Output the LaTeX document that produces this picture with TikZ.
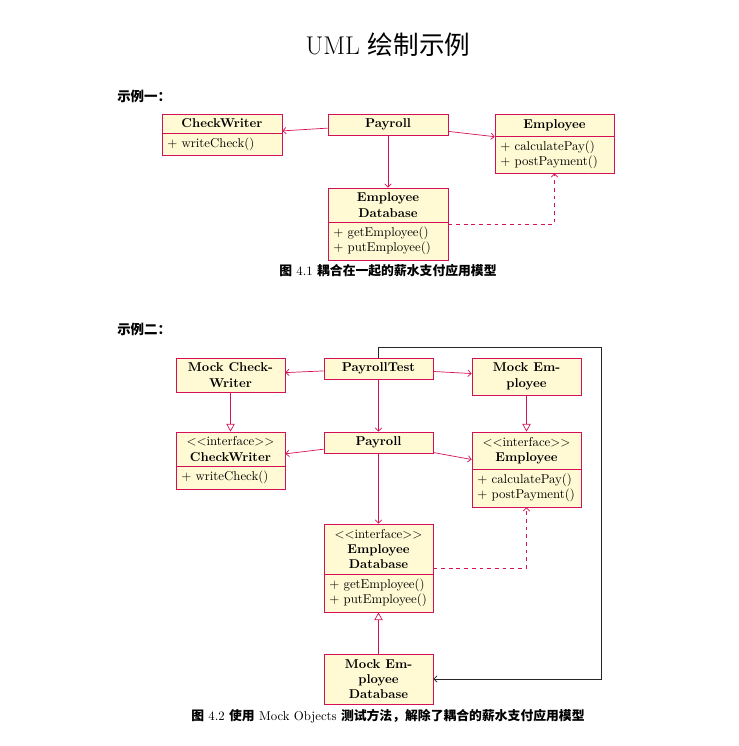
\documentclass[tikz,border=0pt]{standalone}
\usepackage{fontspec}
\newfontfamily\cjk{Noto Sans CJK SC}
\usetikzlibrary{arrows.meta,fit}
\definecolor{umlred}{RGB}{212,16,88}
\definecolor{umlfill}{RGB}{255,250,212}
\tikzset{
  classbox/.style={draw=umlred, fill=umlfill, line width=0.6pt, inner sep=0pt},
  classline/.style={draw=umlred, line width=0.6pt},
  headtext/.style={align=center, inner sep=0pt},
  bodytext/.style={anchor=west, align=left, inner xsep=4pt, inner ysep=0pt},
  assoc/.style={draw=umlred, line width=0.55pt, -{Straight Barb[length=2.5pt,width=5pt]}},
  inherit/.style={draw=umlred, line width=0.55pt, -{Triangle[open,length=6pt,width=6.5pt]}},
  dep/.style={draw=umlred, line width=0.55pt, dashed, -{Straight Barb[length=2.5pt,width=5pt]}},
  blackarrow/.style={draw=black!85, line width=0.55pt, -{Straight Barb[length=2.5pt,width=5pt]}},
}
\newcommand\UmlClass[8]{%
  \node[classbox, fit={(#2,#3)(#4,#5)}] (#1) {};
  \draw[classline] (#2,#6) -- (#4,#6);
  \node[headtext] (#1-h) at ({(#2+#4)/2},{(#3+#6)/2}) {#7};
  \node[bodytext] (#1-b) at (#2,{(#6+#5)/2}) {#8};
}
\newcommand\UmlSimple[6]{%
  \node[classbox, fit={(#2,#3)(#4,#5)}] (#1) {};
  \node[headtext] (#1-h) at ({(#2+#4)/2},{(#3+#5)/2}) {#6};
}
\begin{document}
\begin{tikzpicture}[x=0.78pt,y=-0.78pt]
\useasboundingbox (0,0) rectangle (739,746);
% title and headings
\node (title) at (388,45) {\fontsize{20}{24}\selectfont UML {\cjk 绘制示例}};
\node[anchor=west, inner sep=0pt] (h1) at (117,96) {\cjk\bfseries\fontsize{10.5}{12}\selectfont 示例一：};
\node[anchor=west, inner sep=0pt] (h2) at (117,329) {\cjk\bfseries\fontsize{10.5}{12}\selectfont 示例二：};

% ---------- example 1 ----------
\UmlClass{cw1}{162}{114}{282}{155}{133}{\textbf{CheckWriter}}{+ writeCheck()}
\UmlSimple{p1}{328}{114}{448}{135}{\textbf{Payroll}}
\UmlClass{emp1}{495}{114}{614}{173}{136}{\textbf{Employee}}{+ calculatePay()\\+ postPayment()}
\UmlClass{edb1}{328}{188}{448}{260}{222}{\textbf{Employee}\\\textbf{Database}}{+ getEmployee()\\+ putEmployee()}

\draw[assoc] (p1) -- (cw1);
\draw[assoc] (p1) -- (emp1);
\draw[assoc] (p1) -- (edb1);
\draw[dep] (edb1.east) -| (emp1.south);

\node (cap1) at (388,271) {{\cjk\bfseries 图} 4.1 {\cjk\bfseries 耦合在一起的薪水支付应用模型}};

% ---------- example 2 ----------
\UmlSimple{mcw}{176}{358}{285}{392}{\textbf{Mock Check-}\\\textbf{Writer}}
\UmlSimple{pt}{324}{358}{433}{379}{\textbf{PayrollTest}}
\UmlSimple{memp}{472}{358}{581}{395}{\textbf{Mock Em-}\\\textbf{ployee}}
\UmlClass{cw2}{176}{432}{285}{489}{466}{$<<$interface$>>$\\\textbf{CheckWriter}}{+ writeCheck()}
\UmlSimple{p2}{324}{432}{433}{453}{\textbf{Payroll}}
\UmlClass{emp2}{472}{432}{581}{507}{469}{$<<$interface$>>$\\\textbf{Employee}}{+ calculatePay()\\+ postPayment()}
\UmlClass{edb2}{324}{524}{433}{612}{574}{$<<$interface$>>$\\\textbf{Employee}\\\textbf{Database}}{+ getEmployee()\\+ putEmployee()}
\UmlSimple{medb}{324}{654}{433}{704}{\textbf{Mock Em-}\\\textbf{ployee}\\\textbf{Database}}

\draw[assoc] (pt) -- (mcw);
\draw[assoc] (pt) -- (memp);
\draw[assoc] (pt) -- (p2);
\draw[inherit] (mcw) -- (cw2);
\draw[inherit] (memp) -- (emp2);
\draw[assoc] (p2) -- (cw2);
\draw[assoc] (p2) -- (emp2);
\draw[assoc] (p2) -- (edb2);
\draw[dep] (edb2.east) -| (emp2.south);
\draw[inherit] (medb) -- (edb2);
\coordinate (rt) at (601,347);
\draw[blackarrow] (pt.north) |- (rt) |- (medb.east);

\node (cap2) at (388,716) {{\cjk\bfseries 图} 4.2 {\cjk\bfseries 使用} Mock Objects {\cjk\bfseries 测试方法，解除了耦合的薪水支付应用模型}};
\end{tikzpicture}
\end{document}
